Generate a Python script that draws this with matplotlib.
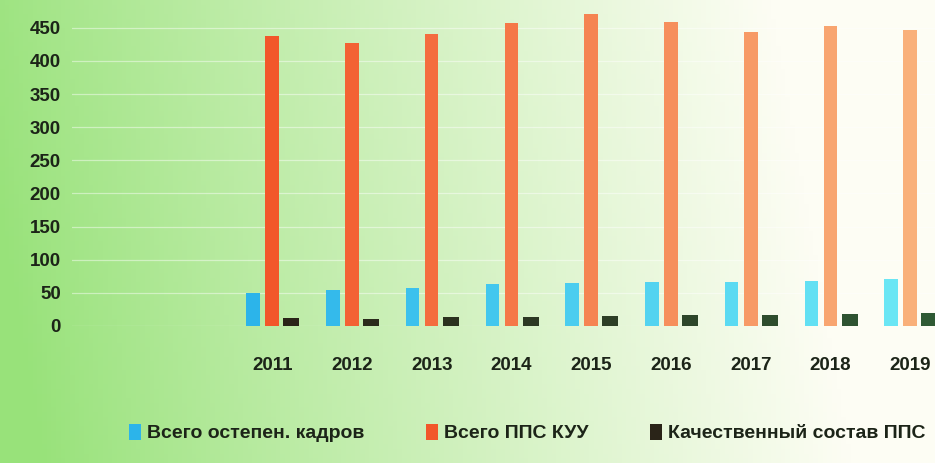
import numpy as np
import matplotlib
matplotlib.use("Agg")
import matplotlib.pyplot as plt
from matplotlib.colors import to_rgb

plt.rcParams['font.family'] = ['Liberation Sans Narrow', 'Liberation Sans', 'DejaVu Sans']

# ===== data =====
years = ["2011", "2012", "2013", "2014", "2015", "2016", "2017", "2018", "2019"]
degree_staff = [50, 55, 58, 63, 65, 67, 66, 68, 71]          # Всего остепен. кадров
pps_total = [438, 427, 440, 457, 471, 458, 444, 452, 447]     # Всего ППС КУУ
quality = [12, 11, 13, 14, 15, 17, 17, 18, 19]                # Качественный состав ППС
labels = ["Всего остепен. кадров", "Всего ППС КУУ", "Качественный состав ППС"]
yticks = [0, 50, 100, 150, 200, 250, 300, 350, 400, 450]

# ===== style =====
def fade(c0, c1, n):
    a, b = np.array(to_rgb(c0)), np.array(to_rgb(c1))
    return [tuple(a + (b - a) * t) for t in np.linspace(0, 1, n)]

n = len(years)
BLUE = fade("#2cb4ea", "#6ae6f4", n)
ORANGE = fade("#f2572a", "#f9b07a", n)
DARK = fade("#2a2418", "#2f5a34", n)
TXT = "#1c2418"

fig = plt.figure(figsize=(9.35, 4.63), dpi=100)

# scanned green -> pale background
bg = fig.add_axes([0, 0, 1, 1], zorder=0)
gx = np.linspace(0, 1, 200)
gy = np.linspace(0, 1, 100)
X, Y = np.meshgrid(gx, gy)
t = np.clip(X * 1.15 + (1 - Y) * 0.1 - 0.05, 0, 1) ** 0.9
left = np.array(to_rgb("#98e27a"))
right = np.array(to_rgb("#fdfdf4"))
img = left[None, None, :] * (1 - t[..., None]) + right[None, None, :] * t[..., None]
bg.imshow(img, aspect="auto", extent=[0, 1, 0, 1], origin="upper")
bg.axis("off")

ax = fig.add_axes([0.077, 0.296, 0.923, 0.687], zorder=1)
ax.patch.set_alpha(0)
x = np.arange(n)
w = 0.17
ax.bar(x - 0.24, degree_staff, width=w, color=BLUE, label=labels[0], zorder=3)
ax.bar(x, pps_total, width=w, color=ORANGE, label=labels[1], zorder=3)
ax.bar(x + 0.24, quality, width=w + 0.03, color=DARK, label=labels[2], zorder=3)

ax.set_ylim(0, 480)
ax.set_xlim(-2.51, 8.31)
ax.set_yticks(yticks)
ax.set_xticks(x)
ax.set_xticklabels(years)
ax.grid(axis="y", color="#ffffff", alpha=0.45, lw=0.9, zorder=1)
for s in ax.spines.values():
    s.set_visible(False)
ax.tick_params(length=0, colors=TXT)
ax.tick_params(axis="x", pad=22, labelsize=13.5)
ax.tick_params(axis="y", pad=8, labelsize=13.5)
for lab in ax.get_xticklabels() + ax.get_yticklabels():
    lab.set_fontweight("bold")

fig.legend(loc="center", bbox_to_anchor=(0.564, 0.065), ncol=3, frameon=False,
           handlelength=0.6, handleheight=0.9, handletextpad=0.3, columnspacing=3.2,
           prop={"weight": "bold", "size": 14}, labelcolor=TXT)

fig.savefig("out.png", dpi=100)
